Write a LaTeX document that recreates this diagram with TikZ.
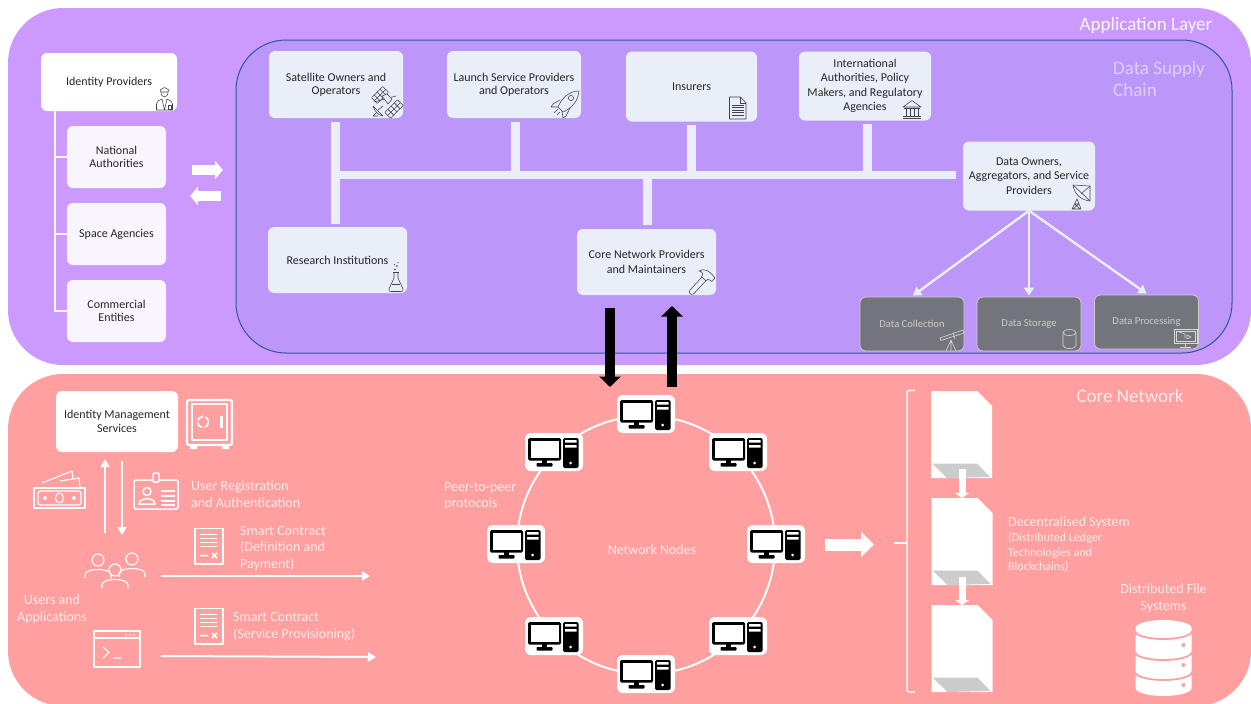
\documentclass[tikz,border=0pt]{standalone}
\usepackage{fontspec}
\setmainfont{Carlito}
\usetikzlibrary{arrows.meta,calc}
\definecolor{topband}{HTML}{CC99FF}
\definecolor{botband}{HTML}{FF9F9F}
\definecolor{inner}{HTML}{BD96F9}
\definecolor{innerline}{HTML}{2F5597}
\definecolor{paleblue}{HTML}{E9EEF8}
\definecolor{palelilac}{HTML}{F9F5FF}
\definecolor{darkbox}{HTML}{74747C}
\definecolor{softpink}{HTML}{FFEAEA}
\definecolor{softlilac}{HTML}{DFCDFF}
\definecolor{icongrey}{HTML}{404048}
\tikzset{
  every node/.style={font=\fontsize{12}{13.4}\selectfont,text=black!85,align=center,inner sep=0pt},
  box/.style={rectangle,rounded corners=6pt,minimum width=#1},
  lilacbox/.style={box=99pt,fill=palelilac,minimum height=62pt},
  bluebox/.style={box=134pt,fill=paleblue},
  wideline/.style={font=\fontsize{12}{14.4}\selectfont},
  darkbox/.style={box=104pt,minimum height=54pt,fill=darkbox,draw=white!80!black,line width=.8pt,text=white!80!black,font=\fontsize{10.6}{12}\selectfont},
  pcbox/.style={box=58pt,minimum height=38pt,fill=white},
  softtext/.style={text=softpink,align=left,anchor=west,font=\fontsize{14}{16.6}\selectfont},
  softctr/.style={text=softpink,font=\fontsize{14}{16.6}\selectfont},
  bigtext/.style={text=#1,font=\fontsize{19}{22}\selectfont},
  bus/.style={draw=paleblue,line width=9pt},
  thin tree/.style={draw=palelilac,line width=2pt},
  fan/.style={draw=paleblue,line width=2.4pt,-{Triangle[length=8pt,width=10pt]}},
  blackarrow/.style={draw=black,line width=10.5pt,-{Triangle[length=10.5pt,width=21pt]}},
  whiteline/.style={draw=white,line width=2pt,-{Triangle[length=8pt,width=9pt]}},
  ico/.style={draw=icongrey,line width=.55pt,line join=round},
  wico/.style={draw=white,line width=1.4pt,line join=round},
  lgico/.style={draw=white!85!black,line width=.6pt},
  cop/.pic={
    \draw[ico] (4,3) -- (8.5,.5) -- (13,3) -- (12,5) -- (5,5) -- cycle;
    \draw[ico] (5,5) .. controls (5,11.5) and (12,11.5) .. (12,5);
    \draw[ico] (.5,23) -- (.5,17) .. controls (.5,14) and (3,13.5) .. (6,12) -- (8.5,23) -- (11,12) .. controls (14,13.5) and (16.5,14) .. (16.5,17) -- (16.5,23) -- cycle;
    \draw[ico] (12,18) rectangle (15,22);
  },
  satellite/.pic={
    \draw[ico] (2,14) -- (24,8);
    \begin{scope}[shift={(8,7)},rotate=45]
      \draw[ico,rounded corners=.5pt] (-8,-4) rectangle (8,4);
      \draw[ico] (-8,0) -- (8,0) (-4,-4) -- (-4,4) (0,-4) -- (0,4) (4,-4) -- (4,4);
    \end{scope}
    \begin{scope}[shift={(22,21)},rotate=45]
      \draw[ico,rounded corners=.5pt] (-9,-4) rectangle (9,4);
      \draw[ico] (-9,0) -- (9,0) (-4.5,-4) -- (-4.5,4) (0,-4) -- (0,4) (4.5,-4) -- (4.5,4);
    \end{scope}
    \draw[ico,fill=paleblue] (10,8) -- (15,6) -- (20,11) -- (16,16) -- cycle;
    \draw[ico,fill=paleblue] (1,18) .. controls (3,24) and (6,27) .. (11,28) -- cycle;
    \draw[ico] (6,22) -- (11,18) (1,28) -- (5,24) (1,28) -- (6,28);
  },
  rocket/.pic={
    \draw[ico] (28,0) .. controls (18,0) and (11,7) .. (7,16) -- (12,21) .. controls (21,17) and (27,10) .. (28,0) -- cycle;
    \draw[ico] (20,7) circle (2.6);
    \draw[ico] (9,9) -- (2,13) -- (0,16) -- (7,16);
    \draw[ico] (19,17) -- (15,25) -- (12,27) -- (11,20);
    \draw[ico] (7,18) -- (3,22) (9,21) -- (6,24);
  },
  paper/.pic={
    \draw[ico,fill=paleblue] (0,0) -- (11,0) -- (16.5,6) -- (16.5,22) -- (0,22) -- cycle;
    \draw[ico] (11,0) -- (11,6) -- (16.5,6);
    \foreach \yy in {8,10.5,13,15.5,18} \draw[ico] (2.5,\yy) -- (14,\yy);
  },
  bank/.pic={
    \draw[ico] (0,7) -- (9,.5) -- (18,7) -- cycle;
    \draw[ico] (1,8.5) -- (17,8.5) (0,16) -- (18,16) (0,18) -- (18,18);
    \foreach \xx in {3,7,11,15} \draw[ico,line width=1pt] (\xx,9) -- (\xx,15.5);
  },
  dish/.pic={
    \draw[ico] (1,0) .. controls (2,8) and (8,15) .. (18,16) -- (18,1) -- cycle;
    \draw[ico] (1,0) -- (18,16) (18,1) -- (9,9);
    \draw[ico] (5,14) -- (0,24) -- (9,24) -- cycle (2.5,19) -- (6.5,19) -- (1,24) (2.5,19) -- (8,24);
  },
  flask/.pic={
    \draw[ico] (5,10) -- (5,16) -- (0,27) .. controls (-.5,29) and (0,29.5) .. (2,29.5) -- (12,29.5) .. controls (14,29.5) and (14.5,29) .. (14,27) -- (9,16) -- (9,10);
    \draw[ico] (4,10) -- (10,10) (2.7,22) -- (11.3,22);
    \fill[icongrey] (6,7.5) circle (.9) (8,4) circle (.9) (5.5,2.5) circle (.6) (9,.7) circle (.6);
  },
  hammer/.pic={
    \draw[ico,fill=paleblue] (2,21) -- (15,7) -- (19,10.5) -- (5.5,25) .. controls (3,26.5) and (0,24) .. (2,21) -- cycle;
    \draw[ico,fill=paleblue] (11,2) .. controls (16,-1) and (21,1) .. (27,9) -- (24,12.5) -- (20,10) -- (18,12) -- (13.5,7.5) -- (15,5) .. controls (14,3) and (13,2.5) .. (11,2) -- cycle;
  },
  telescope/.pic={
    \draw[lgico] (0,9) -- (23,1) -- (24,4) -- (1,11.5) -- cycle (13,4) -- (15,10);
    \draw[lgico] (11,11) -- (6,22) (11,11) -- (16,22) (11,11) -- (11,22);
  },
  cylinder icon/.pic={
    \draw[lgico] (0,3) arc[x radius=6.5,y radius=3,start angle=180,end angle=-180];
    \draw[lgico] (0,3) -- (0,16) arc[x radius=6.5,y radius=3,start angle=180,end angle=0] -- (13,3);
  },
  monitor icon/.pic={
    \draw[lgico] (0,0) rectangle (23,14);
    \draw[lgico] (2,2) rectangle (21,12);
    \draw[lgico] (11.5,14) -- (11.5,18) (6,18.5) -- (17,18.5);
    \draw[lgico] (5,3) -- (11,5) -- (11,9) (13,6) -- (17,8) -- (13,10) -- cycle;
  },
  computer/.pic={
    \fill[black,rounded corners=1.5pt] (-26,-14) rectangle (7,8.5);
    \fill[white] (-23.5,-11.5) rectangle (4.5,6);
    \fill[black] (-12,8) rectangle (-7,12);
    \fill[black,rounded corners=.8pt] (-17.5,11) rectangle (-1.5,14.5);
    \fill[black,rounded corners=1.5pt] (9,-14) rectangle (24.5,16);
    \fill[white] (11,-12) rectangle (22.5,-9.5) (11,-7) rectangle (22.5,-4.5);
    \fill[white] (16.7,11) circle (1.5);
  },
  safe/.pic={
    \draw[wico,line width=2.2pt,rounded corners=2pt] (1,1) rectangle (46,46);
    \draw[wico,line width=1.4pt] (6,5) rectangle (41,41);
    \draw[wico,line width=1.6pt,dash pattern=on 7pt off 2.4pt] (17,23) circle (5.6);
    \draw[wico,line width=2.4pt] (35.5,17) -- (35.5,29);
    \fill[white] (4,47) rectangle (11,50) (36,47) rectangle (43,50);
  },
  money/.pic={
    \draw[wico,line width=1.1pt] (0,17) rectangle (51,37);
    \draw[wico,line width=1.1pt,rounded corners=2.5pt] (4,20) rectangle (47,34);
    \draw[wico,line width=1.1pt] (25.5,27) ellipse[x radius=4,y radius=5];
    \draw[wico,line width=1.1pt] (11,27) circle (1.5) (40,27) circle (1.5);
    \draw[wico,line width=1.1pt] (8,12) -- (38,0) -- (39,8) (26,10) -- (45,7) -- (46,16);
  },
  badge/.pic={
    \draw[wico,line width=1.5pt,rounded corners=2pt] (0,8) rectangle (44,37);
    \draw[wico,line width=1.5pt,fill=botband,rounded corners=1pt] (19,1) rectangle (25,10);
    \draw[wico,line width=1.5pt] (13,19.5) circle (4);
    \draw[wico,line width=1.5pt] (5,32) .. controls (5,25) and (21,25) .. (21,32) -- cycle;
    \foreach \yy in {19,24,29,33} \draw[wico,line width=1.3pt] (27,\yy) -- (41,\yy);
  },
  contract/.pic={
    \draw[wico,line width=1.6pt] (0,0) rectangle (28,35.5);
    \foreach \yy/\xe in {6/22,10/22,14/22,18/22} \draw[wico,line width=1pt] (5,\yy) -- (\xe,\yy);
    \draw[wico,line width=1.5pt] (5,27) -- (13,27) (17,24.5) -- (22,29.5) (22,24.5) -- (17,29.5);
  },
  person/.pic={
    \draw[wico,line width=1.1pt] (0,0) circle (6);
    \draw[wico,line width=1.1pt] (-13,18) -- (-13,15) .. controls (-13,11) and (-6,9.5) .. (0,9.5) .. controls (6,9.5) and (13,11) .. (13,15) -- (13,18);
  },
  console/.pic={
    \draw[wico,line width=1.1pt] (0,0) rectangle (46,36);
    \draw[wico,line width=1.1pt] (0,7) -- (46,7);
    \fill[white] (32,4) circle (.8) (36,4) circle (.8) (40,4) circle (.8);
    \draw[wico,line width=1.1pt] (9,16) -- (15,21.5) -- (9,27) (19,27) -- (27,27);
  },
  ledger/.pic={
    \fill[white] (0,0) -- (46,0) -- (61,15) -- (61,87) -- (0,87) -- cycle;
    \fill[black!20] (1,72.5) -- (46,72.5) -- (59,86) -- (16,87) -- cycle;
  },
}
\begin{document}
\begin{tikzpicture}[x=1pt,y=-1pt]
\useasboundingbox (0,0) rectangle (1251,704);
\fill[white] (0,0) rectangle (1251,704);
% bands
\fill[topband,rounded corners=55pt] (8,8) rectangle (1251,365);
\fill[botband,rounded corners=55pt] (8,374) rectangle (1251,706);
\filldraw[fill=inner,draw=innerline,line width=1pt,rounded corners=50pt] (236,40) rectangle (1232,353);
\node[bigtext=white!90!topband] (applayer) at (1146,25) {Application Layer};
\node[bigtext=softlilac,align=left,anchor=west] (supply) at (1113,78.5) {Data Supply\\Chain};
\node[bigtext=softpink] (corelabel) at (1130,395.5) {Core Network};

% identity providers
\node[box=136pt,minimum height=58pt,fill=white] (idp) at (109,82) {Identity Providers};
\node[lilacbox] (nat) at (116.5,157) {National\\Authorities};
\node[lilacbox] (spa) at (116.5,234) {Space Agencies};
\node[lilacbox] (com) at (116.5,311) {Commercial\\Entities};
\coordinate (trunk) at (55,111);
\draw[thin tree] (trunk) |- (nat.west);
\draw[thin tree] (trunk) |- (spa.west);
\draw[thin tree] (trunk) |- (com.west);
\pic at (156,87) {cop};
% exchange arrows
\coordinate (ar1) at (192,170); \coordinate (ar2) at (223,170);
\coordinate (al1) at (221,196); \coordinate (al2) at (190,196);
\draw[draw=white,line width=9.5pt,-{Triangle[length=8pt,width=18pt]}] (ar1) -- (ar2);
\draw[draw=white,line width=9.5pt,-{Triangle[length=8pt,width=18pt]}] (al1) -- (al2);

% supply chain boxes
\node[bluebox,minimum height=67pt] (sat) at (336,84.5) {Satellite Owners and\\Operators};
\node[bluebox,minimum height=67pt] (lau) at (514,84.5) {Launch Service Providers\\and Operators};
\node[box=131pt,fill=paleblue,minimum height=70pt] (ins) at (691.5,86.5) {Insurers};
\node[box=132pt,fill=paleblue,minimum height=69pt,wideline] (int) at (865,86) {International\\Authorities, Policy\\Makers, and Regulatory\\Agencies};
\node[box=132pt,fill=paleblue,minimum height=69pt,wideline] (own) at (1029,176) {Data Owners,\\Aggregators, and Service\\Providers};
\node[box=139pt,fill=paleblue,minimum height=66pt] (res) at (337.5,260) {Research Institutions};
\node[box=139pt,fill=paleblue,minimum height=66pt,wideline] (cor) at (646.5,262) {Core Network Providers\\and Maintainers};
\node[darkbox] (dco) at (912,324) {Data Collection};
\node[darkbox] (dst) at (1029,324) {Data Storage};
\node[darkbox] (dpr) at (1146.5,322) {Data Processing};

% bus
\coordinate (busl) at (335,175);
\draw[bus] ([xshift=-1pt]sat.south) ++(0,4) -- ++(0,102);
\draw[bus,line width=8pt,shorten >=7pt] (busl) -- (own.west |- busl);
\draw[bus] ([xshift=1.5pt]lau.south) ++(0,4) -- ++(0,50);
\draw[bus] ([xshift=-.5pt]ins.south) ++(0,3) -- ++(0,47);
\draw[bus] ([xshift=2pt]int.south) ++(0,3) -- ++(0,48);
\draw[bus] ([xshift=1pt]cor.north) ++(0,-4) -- ++(0,-46);

% data arrows
\draw[fan] (own.south) -- ([xshift=1pt,yshift=1pt]dco.north);
\draw[fan] (own.south) -- ([yshift=1pt]dst.north);
\draw[fan] (own.south) -- ([yshift=1pt]dpr.north);

% box icons
\pic at (372,88) {satellite};
\pic at (551,91) {rocket};
\pic at (729.5,97) {paper};
\pic at (903,100) {bank};
\pic at (1072,185) {dish};
\pic at (389,262) {flask};
\pic at (688,269) {hammer};
\pic at (940,329) {telescope};
\pic at (1063,329.5) {cylinder icon};
\pic at (1174,329) {monitor icon};

% black arrows
\coordinate (bd1) at (610,308); \coordinate (bd2) at (610,387);
\coordinate (bu1) at (672,387); \coordinate (bu2) at (672,306);
\draw[blackarrow] (bd1) -- (bd2);
\draw[blackarrow] (bu1) -- (bu2);

% ring
\node[circle,draw=white,line width=2pt,minimum size=258pt] (ring) at (646,545) {};
\node[text=softpink,font=\fontsize{14}{14}\selectfont] (nn) at (652,550) {Network Nodes};
\foreach \nm/\xx/\yy in {pa/646/414,pb/738/452,pc/776/544,pd/738/636,pe/646/674,pf/554/636,pg/516/544,ph/554/452}{
  \node[pcbox] (\nm) at (\xx,\yy) {};
  \pic at (\nm) {computer};
}
\node[softtext] (p2p) at (444,496) {Peer-to-peer\\protocols};

% identity management
\node[box=122pt,minimum height=61pt,fill=white] (ims) at (117,421.5) {Identity Management\\Services};
\pic at (186,399) {safe};
\coordinate (uu1) at (105,533); \coordinate (uu2) at (122,535);
\draw[whiteline] (uu1) -- ([yshift=-7pt]uu1 |- ims.south);
\draw[whiteline] ([yshift=-9pt]uu2 |- ims.south) -- (uu2);
\pic at (34,471) {money};
\pic at (134,472) {badge};
\node[softtext] (ura) at (191,494) {User Registration\\and Authentication};
\pic at (195,528.5) {contract};
\node[softtext] (sc1) at (240,548.5) {Smart Contract\\(Definition and\\Payment)};
\coordinate (a1s) at (161,576); \coordinate (a1e) at (370,576);
\draw[whiteline] (a1s) -- (a1e);
\pic at (195,608.5) {contract};
\node[softtext] (sc2) at (233,626.5) {Smart Contract\\(Service Provisioning)};
\coordinate (a2s) at (161,656); \coordinate (a2e) at (376,657);
\draw[whiteline] (a2s) -- (a2e);
\pic at (98,560) {person};
\pic at (132,559) {person};
\pic at (115,570) {person};
\node[softctr] (usr) at (52,609) {Users and\\Applications};
\pic at (94,631) {console};

% move to chain
\coordinate (fa1) at (825,544.5); \coordinate (fa2) at (874,544.5);
\draw[draw=white,line width=12pt,-{Triangle[length=13pt,width=25pt]}] (fa1) -- (fa2);

% brace
\coordinate (brm) at (907,543);
\draw[white,line width=1.2pt,rounded corners=1.5pt] (915,390.5) -- (907,390.5) -- (907,692) -- (915,692);
\draw[white,line width=1.2pt] (894,543) -- (brm);

% ledger blocks
\pic at (931,391) {ledger};
\pic at (931.5,498) {ledger};
\pic at (931.5,605) {ledger};
\coordinate (l1a) at (962,469); \coordinate (l1b) at (962,498);
\coordinate (l2a) at (962,577); \coordinate (l2b) at (962,605);
\draw[draw=white,line width=7pt,-{Triangle[length=5pt,width=14pt]}] (l1a) -- (l1b);
\draw[draw=white,line width=7pt,-{Triangle[length=5pt,width=14pt]}] (l2a) -- (l2b);
\node[softtext,anchor=north west,font=\fontsize{12}{14.6}\selectfont] (dls) at (1008,517) {{\fontsize{14}{14.6}\selectfont Decentralised System}\\(Distributed Ledger\\Technologies and\\Blockchains)};
\node[softctr] (dfs) at (1163.5,598.5) {Distributed File\\Systems};

% database
\fill[white] (1135.5,628) arc[x radius=28,y radius=8,start angle=180,end angle=360] -- (1191.5,688) arc[x radius=28,y radius=8,start angle=0,end angle=180] -- cycle;
\foreach \yy in {631,652,672}{
  \draw[botband,line width=1.8pt] (1135,\yy) arc[x radius=28.5,y radius=8,start angle=180,end angle=0];
}
\fill[botband] (1183.5,645) circle (2) (1183.5,665) circle (2) (1183.5,685) circle (2);
\end{tikzpicture}
\end{document}
